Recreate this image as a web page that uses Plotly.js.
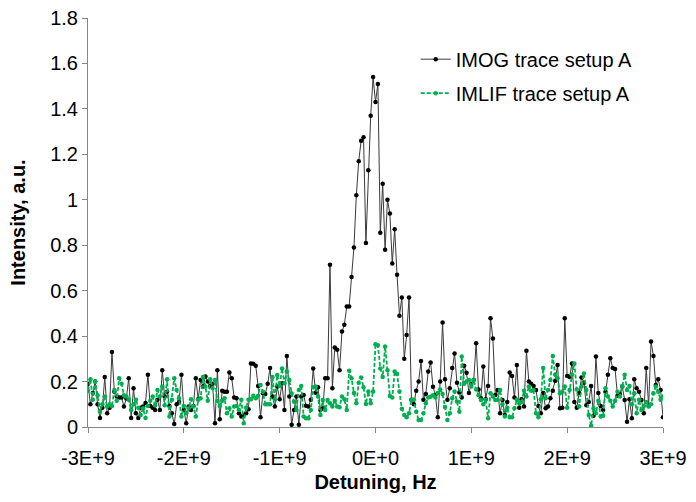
<!DOCTYPE html>
<html><head><meta charset="utf-8">
<script src="https://cdn.plot.ly/plotly-3.0.1.min.js"></script>
<style>html,body{margin:0;padding:0;background:#fff}#chart{width:696px;height:502px}</style>
</head><body><div id="chart"></div>
<script>
// Detuning grid: -3E+9 .. 3E+9 Hz, step 2.5E+7 Hz (241 samples)
const xStart = -3e9, xStep = 2.5e7, nPts = 241;

const imog = [
0.19,0.10,0.15,0.20,0.10,0.04,0.085,0.22,0.06,0.085,0.33,0.155,0.134,0.13,0.13,0.09,0.125,0.215,0.04,0.17,
0.06,0.04,0.085,0.09,0.106,0.23,0.092,0.085,0.075,0.12,0.075,0.25,0.134,0.155,0.092,0.06,0.013,0.10,
0.11,0.23,0.075,0.016,0.09,0.075,0.092,0.214,0.122,0.207,0.178,0.222,0.20,0.18,0.19,0.016,0.25,0.034,0.16,0.155,
0.155,0.24,0.214,0.13,0.126,0.06,0.046,0.053,0.06,0.078,0.28,0.278,0.27,0.18,0.043,0.148,0.145,0.19,0.26,0.134,0.09,0.178,
0.122,0.192,0.075,0.313,0.134,0.01,0.075,0.134,0.01,0.134,0.141,0.093,0.09,0.12,0.258,0.151,0.175,0.075,0.082,0.215,0.215,
0.714,0.17,0.35,0.34,0.25,0.42,0.45,0.53,0.53,
0.66,0.79,1.02,1.17,1.26,1.275,0.81,1.13,1.37,1.54,1.43,1.51,0.855,1.07,0.78,1.00,0.94,0.72,0.87,0.67,0.49,0.57,
0.30,0.405,0.57,0.12,0.10,0.16,0.20,0.29,0.12,0.145,0.244,0.284,0.177,0.141,0.043,0.20,0.46,0.21,0.12,0.17,0.26,0.324,0.195,0.152,0.13,0.27,0.239,
0.15,0.19,0.207,0.369,0.165,0.126,0.266,0.122,0.18,0.479,0.39,0.141,0.163,0.06,0.119,0.053,0.11,0.24,0.224,0.13,
0.273,0.085,0.122,0.09,0.336,0.20,0.19,0.18,0.163,0.092,0.06,0.15,0.082,0.09,0.126,0.16,0.203,0.273,0.082,0.085,
0.479,0.225,0.22,0.28,0.11,0.085,0.15,0.218,0.195,0.096,0.11,0.18,0.05,0.31,0.15,0.092,0.075,0.155,0.23,0.303,0.26,
0.255,0.137,0.145,0.178,0.119,0.023,0.122,0.038,0.21,0.17,0.155,0.119,0.06,0.26,0.092,0.376,0.313,0.185,0.21,0.163,0.043
];

const imlif = [
0.16,0.21,0.12,0.20,0.14,0.068,0.10,0.134,0.09,0.10,0.092,0.163,0.116,0.214,0.19,0.14,0.134,0.12,0.075,0.10,
0.12,0.085,0.053,0.082,0.04,0.092,0.116,0.134,0.096,0.163,0.134,0.178,0.096,0.21,0.046,0.12,0.214,0.163,0.126,
0.046,0.092,0.06,0.082,0.122,0.09,0.046,0.12,0.126,0.22,0.178,0.116,0.21,0.17,0.207,0.116,0.092,0.116,0.126,0.06,
0.082,0.046,0.09,0.092,0.075,0.12,0.016,0.085,0.12,0.122,0.137,0.126,0.137,0.185,0.155,0.10,0.10,0.10,0.22,0.12,
0.229,0.18,0.258,0.192,0.244,0.207,0.148,0.111,0.075,0.163,0.18,0.046,0.038,0.038,0.075,0.175,0.178,0.134,0.053,0.119,
0.075,0.119,0.104,0.09,0.116,0.09,0.087,0.134,0.122,0.075,0.248,0.215,0.15,0.104,0.195,0.218,0.175,0.101,0.156,0.104,
0.156,0.364,0.36,0.258,0.22,0.354,0.25,0.136,0.13,0.244,0.233,0.156,0.08,0.053,0.043,0.06,0.12,0.12,0.067,0.031,
0.031,0.06,0.104,0.13,0.133,0.14,0.13,0.15,0.165,0.145,0.088,0.031,0.06,0.126,0.156,0.112,0.067,0.31,0.19,0.20,
0.207,0.178,0.207,0.165,0.14,0.119,0.10,0.119,0.038,0.148,0.134,0.119,0.119,0.163,0.10,0.046,0.085,0.043,0.043,0.082,
0.12,0.104,0.11,0.16,0.134,0.178,0.16,0.163,0.06,0.043,0.122,0.26,0.126,0.163,0.207,0.313,0.23,0.214,0.148,0.155,
0.178,0.085,0.163,0.23,0.28,0.165,0.09,0.178,0.235,0.163,0.053,0.005,0.082,0.06,0.116,0.046,0.05,0.17,0.134,0.116,0.09,
0.116,0.155,0.134,0.18,0.23,0.163,0.18,0.10,0.148,0.06,0.12,0.075,0.092,0.11,0.09,0.10,0.148,0.178,0.155,0.12,0.134
];

const seriesNames = ["IMOG trace setup A", "IMLIF trace setup A"];
const xTickVals = [-3e9, -2e9, -1e9, 0, 1e9, 2e9, 3e9];
const xTickText = ["-3E+9", "-2E+9", "-1E+9", "0E+0", "1E+9", "2E+9", "3E+9"];
const yTickVals = [0, 0.2, 0.4, 0.6, 0.8, 1, 1.2, 1.4, 1.6, 1.8];
const yTickText = ["0", "0.2", "0.4", "0.6", "0.8", "1", "1.2", "1.4", "1.6", "1.8"];

const detuning = Array.from({length: nPts}, (_, i) => xStart + i * xStep);

const traces = [
  {x: detuning, y: imog, name: seriesNames[0], type: "scatter", mode: "lines+markers",
   legendgroup: "a",
   line: {color: "#3a3a3a", width: 1},
   marker: {color: "#000000", size: 4.5, symbol: "circle"}},
  {x: detuning, y: imlif, name: seriesNames[1], type: "scatter", mode: "lines+markers",
   legendgroup: "b",
   line: {color: "#00B050", width: 1.8, dash: "4px,2px"},
   marker: {color: "#00B050", size: 4.5, symbol: "circle"}}
];

const ff = "Liberation Sans, Arial, sans-serif";
const layout = {
  width: 696, height: 502,
  margin: {l: 88, r: 33, t: 18, b: 75},
  paper_bgcolor: "#fff", plot_bgcolor: "#fff",
  font: {family: ff, size: 20, color: "#000"},
  showlegend: true,
  legend: {x: 0.57, y: 0.947, xanchor: "left", yanchor: "top",
           font: {family: ff, size: 20, color: "#000"},
           bgcolor: "rgba(0,0,0,0)", traceorder: "grouped", tracegroupgap: 5},
  xaxis: {range: [-3e9, 3e9], tickvals: xTickVals, ticktext: xTickText,
          showgrid: false, zeroline: false, showline: true, linecolor: "#868686", linewidth: 1,
          ticks: "outside", ticklen: 5, tickcolor: "#868686", ticklabelstandoff: 8,
          tickfont: {family: ff, size: 20, color: "#000"},
          title: {text: "<b>Detuning, Hz</b>", font: {family: ff, size: 20, color: "#000"}, standoff: 6},
          automargin: false},
  yaxis: {range: [0, 1.8], tickvals: yTickVals, ticktext: yTickText,
          showgrid: false, zeroline: false, showline: true, linecolor: "#868686", linewidth: 1,
          ticks: "outside", ticklen: 5, tickcolor: "#868686",
          tickfont: {family: ff, size: 20, color: "#000"},
          title: {text: "<b>Intensity, a.u.</b>", font: {family: ff, size: 20, color: "#000"}, standoff: 19},
          automargin: false}
};

Plotly.newPlot("chart", traces, layout, {staticPlot: true, displayModeBar: false});
</script>
</body></html>
